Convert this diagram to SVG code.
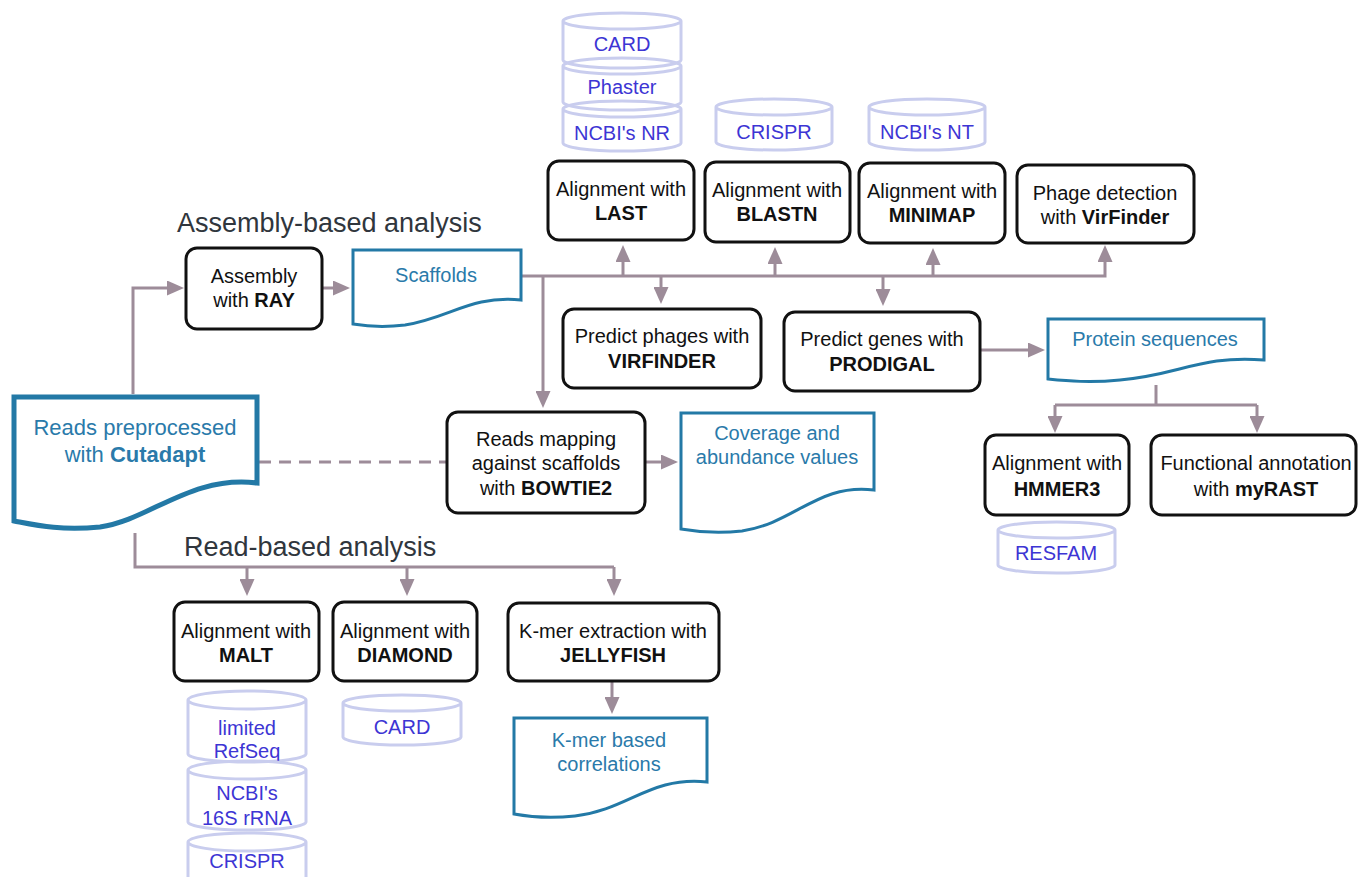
<svg xmlns="http://www.w3.org/2000/svg" width="1358" height="877" viewBox="0 0 1358 877">
<style>
.bg{fill:#ffffff}
.proc{fill:#ffffff;stroke:#111111;stroke-width:3}
.pt{font-family:"Liberation Sans",Arial,sans-serif;font-size:20px;fill:#111111;text-anchor:middle}
.b{font-weight:bold}
.doc{fill:#ffffff;stroke:#2379a6;stroke-width:3}
.dt{font-family:"Liberation Sans",Arial,sans-serif;font-size:20px;fill:#2a7aaa;text-anchor:middle}
.cyl{fill:none;stroke:#c9cdee;stroke-width:3}
.ct{font-family:"Liberation Sans",Arial,sans-serif;font-size:20px;fill:#3d35d4;text-anchor:middle}
.title{font-family:"Liberation Sans",Arial,sans-serif;font-size:27px;fill:#30363d}
.con{fill:none;stroke:#9d8c99;stroke-width:3}
.arr{marker-end:url(#ah)}
.dash{stroke-dasharray:12 8}
</style>
<defs>
<marker id="ah" viewBox="0 0 17 15" refX="11" refY="7.5" markerWidth="17" markerHeight="15" markerUnits="userSpaceOnUse" orient="auto">
<path d="M0,0 L17,7.5 L0,15 Z" fill="#9d8c99"/>
</marker>
</defs>
<rect class="bg" x="0" y="0" width="1358" height="877"/>

<text class="title" x="177" y="232">Assembly-based analysis</text>
<text class="title" x="184" y="556">Read-based analysis</text>

<g id="connectors">
<path class="con arr" d="M133,394 V288 H178"/>
<path class="con arr" d="M322,288 H344"/>
<path class="con arr" d="M521,276 H1105 V251"/>
<path class="con arr" d="M623,276 V251"/>
<path class="con arr" d="M775,276 V253"/>
<path class="con arr" d="M933,276 V254"/>
<path class="con arr" d="M661,276 V298"/>
<path class="con arr" d="M883,276 V300"/>
<path class="con arr" d="M543,276 V402"/>
<path class="con dash" d="M259,462 H447"/>
<path class="con arr" d="M645,462 H672"/>
<path class="con arr" d="M980,350 H1039"/>
<path class="con" d="M1156,385 V405"/>
<path class="con" d="M1055,405 H1257"/>
<path class="con arr" d="M1055,405 V427"/>
<path class="con arr" d="M1257,405 V427"/>
<path class="con" d="M135,533 V567 H614"/>
<path class="con arr" d="M247,567 V590"/>
<path class="con arr" d="M407,567 V590"/>
<path class="con arr" d="M614,567 V590"/>
<path class="con arr" d="M612,682 V708"/>
</g>

<g id="db-card-top">
<path class="cyl" d="M563,21 A59,8 0 0 1 681,21 A59,8 0 0 1 563,21 M563,21 V60 A59,8 0 0 0 681,60 V21"/>
<text class="ct" x="622" y="51">CARD</text>
</g>
<g id="db-phaster">
<path class="cyl" d="M563,66 A59,8 0 0 1 681,66 A59,8 0 0 1 563,66 M563,66 V102 A59,8 0 0 0 681,102 V66"/>
<text class="ct" x="622" y="94">Phaster</text>
</g>
<g id="db-ncbi-nr">
<path class="cyl" d="M563,109 A59,8 0 0 1 681,109 A59,8 0 0 1 563,109 M563,109 V143 A59,8 0 0 0 681,143 V109"/>
<text class="ct" x="622" y="140">NCBI's NR</text>
</g>
<g id="db-crispr-top">
<path class="cyl" d="M716,107 A58,8 0 0 1 832,107 A58,8 0 0 1 716,107 M716,107 V142 A58,8 0 0 0 832,142 V107"/>
<text class="ct" x="774" y="139">CRISPR</text>
</g>
<g id="db-ncbi-nt">
<path class="cyl" d="M869,107 A58,8 0 0 1 985,107 A58,8 0 0 1 869,107 M869,107 V142 A58,8 0 0 0 985,142 V107"/>
<text class="ct" x="927" y="139">NCBI's NT</text>
</g>
<g id="db-resfam">
<path class="cyl" d="M998,530 A58,8 0 0 1 1115,530 A58,8 0 0 1 998,530 M998,530 V565 A58,8 0 0 0 1115,565 V530"/>
<text class="ct" x="1056" y="560">RESFAM</text>
</g>
<g id="db-refseq">
<path class="cyl" d="M188,700 A59,9 0 0 1 306,700 A59,9 0 0 1 188,700 M188,700 V754 A59,8 0 0 0 306,754 V700"/>
<text class="ct" x="247" y="735">limited</text>
<text class="ct" x="247" y="758">RefSeq</text>
</g>
<g id="db-16s">
<path class="cyl" d="M188,770 A59,9 0 0 1 306,770 A59,9 0 0 1 188,770 M188,770 V822 A59,8 0 0 0 306,822 V770"/>
<text class="ct" x="247" y="800">NCBI's</text>
<text class="ct" x="247" y="825">16S rRNA</text>
</g>
<g id="db-crispr-bottom">
<path class="cyl" d="M188,842 A59,9 0 0 1 306,842 A59,9 0 0 1 188,842 M188,842 V884 M306,842 V884"/>
<text class="ct" x="247" y="868">CRISPR</text>
</g>
<g id="db-card-bottom">
<path class="cyl" d="M343,703 A59,8 0 0 1 461,703 A59,8 0 0 1 343,703 M343,703 V737 A59,8 0 0 0 461,737 V703"/>
<text class="ct" x="402" y="734">CARD</text>
</g>

<g id="assembly">
<rect class="proc" x="186" y="248" width="136" height="81" rx="11"/>
<text class="pt" x="254" y="283">Assembly</text>
<text class="pt" x="254" y="307">with <tspan class="b">RAY</tspan></text>
</g>
<g id="align-last">
<rect class="proc" x="548" y="161" width="146" height="79" rx="11"/>
<text class="pt" x="621" y="196">Alignment with</text>
<text class="pt b" x="621" y="220">LAST</text>
</g>
<g id="align-blastn">
<rect class="proc" x="705" y="162" width="145" height="80" rx="11"/>
<text class="pt" x="777" y="197">Alignment with</text>
<text class="pt b" x="777" y="221">BLASTN</text>
</g>
<g id="align-minimap">
<rect class="proc" x="859" y="163" width="146" height="80" rx="11"/>
<text class="pt" x="932" y="198">Alignment with</text>
<text class="pt b" x="932" y="222">MINIMAP</text>
</g>
<g id="phage-detect">
<rect class="proc" x="1017" y="165" width="177" height="78" rx="11"/>
<text class="pt" x="1105" y="200">Phage detection</text>
<text class="pt" x="1105" y="224">with <tspan class="b">VirFinder</tspan></text>
</g>
<g id="predict-phages">
<rect class="proc" x="563" y="309" width="198" height="79" rx="11"/>
<text class="pt" x="662" y="343">Predict phages with</text>
<text class="pt b" x="662" y="368">VIRFINDER</text>
</g>
<g id="predict-genes">
<rect class="proc" x="784" y="312" width="196" height="79" rx="11"/>
<text class="pt" x="882" y="346">Predict genes with</text>
<text class="pt b" x="882" y="371">PRODIGAL</text>
</g>
<g id="reads-mapping">
<rect class="proc" x="447" y="412" width="198" height="101" rx="11"/>
<text class="pt" x="546" y="446">Reads mapping</text>
<text class="pt" x="546" y="470">against scaffolds</text>
<text class="pt" x="546" y="495">with <tspan class="b">BOWTIE2</tspan></text>
</g>
<g id="align-hmmer">
<rect class="proc" x="985" y="435" width="144" height="80" rx="11"/>
<text class="pt" x="1057" y="470">Alignment with</text>
<text class="pt b" x="1057" y="496">HMMER3</text>
</g>
<g id="func-annot">
<rect class="proc" x="1151" y="435" width="205" height="80" rx="11"/>
<text class="pt" x="1256" y="470">Functional annotation</text>
<text class="pt" x="1256" y="496">with <tspan class="b">myRAST</tspan></text>
</g>
<g id="align-malt">
<rect class="proc" x="174" y="602" width="145" height="79" rx="11"/>
<text class="pt" x="246" y="638">Alignment with</text>
<text class="pt b" x="246" y="662">MALT</text>
</g>
<g id="align-diamond">
<rect class="proc" x="333" y="602" width="144" height="79" rx="11"/>
<text class="pt" x="405" y="638">Alignment with</text>
<text class="pt b" x="405" y="662">DIAMOND</text>
</g>
<g id="kmer-extract">
<rect class="proc" x="508" y="603" width="211" height="78" rx="11"/>
<text class="pt" x="613" y="638">K-mer extraction with</text>
<text class="pt b" x="613" y="662">JELLYFISH</text>
</g>

<g id="reads-pre">
<path class="doc" style="stroke-width:5" d="M14,397 H257 V483 C190,475 150,520 100,527 C60,531 35,525 14,521 Z"/>
<text class="dt" style="font-size:22px" x="135" y="435">Reads preprocessed</text>
<text class="dt" style="font-size:22px" x="135" y="462">with <tspan class="b">Cutadapt</tspan></text>
</g>
<g id="scaffolds">
<path class="doc" d="M353,250 H521 V300 C470,295 450,318 405,325 C380,328 365,326 353,324 Z"/>
<text class="dt" x="436" y="282">Scaffolds</text>
</g>
<g id="coverage">
<path class="doc" d="M681,413 H874 V490 C818,483 795,523 742,531 C715,534 698,532 681,529 Z"/>
<text class="dt" x="777" y="440">Coverage and</text>
<text class="dt" x="777" y="464">abundance values</text>
</g>
<g id="protein">
<path class="doc" d="M1048,319 H1264 V360 C1200,355 1180,375 1120,380 C1090,383 1068,381 1048,379 Z"/>
<text class="dt" x="1155" y="346">Protein sequences</text>
</g>
<g id="kmer-corr">
<path class="doc" d="M514,718 H707 V782 C650,776 628,810 575,816 C548,819 530,817 514,814 Z"/>
<text class="dt" x="609" y="747">K-mer based</text>
<text class="dt" x="609" y="771">correlations</text>
</g>
</svg>
